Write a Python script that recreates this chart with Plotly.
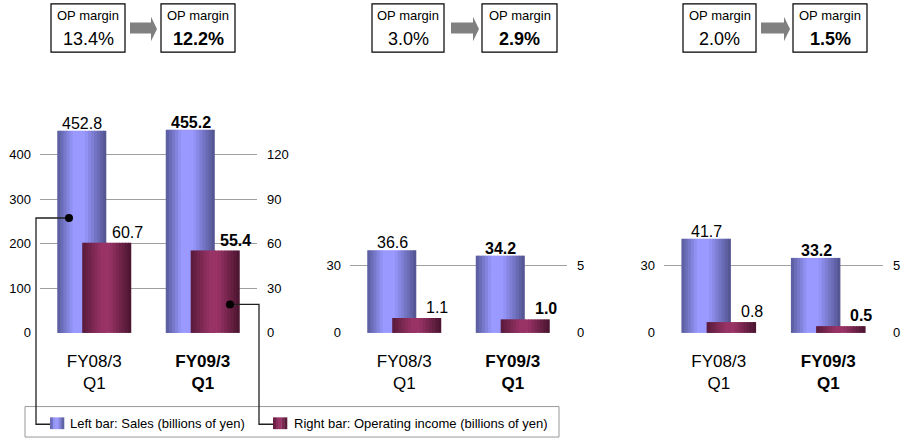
import plotly.graph_objects as go

W, H = 906, 446
FONT = "Arial, 'Liberation Sans', sans-serif"

# ---------------- data ----------------
categories = ["FY08/3 Q1", "FY09/3 Q1"]
tick_labels = ["FY08/3<br>Q1", "<b>FY09/3</b><br><b>Q1</b>"]
sales_prev = [452.8, 36.6, 41.7]
sales_curr = [455.2, 34.2, 33.2]
oi_prev = [60.7, 1.1, 0.8]
oi_curr = [55.4, 1.0, 0.5]
margin_prev = [13.4, 3.0, 2.0]
margin_curr = [12.2, 2.9, 1.5]
left_ticks = [[0, 100, 200, 300, 400], [0, 30], [0, 30]]
right_ticks = [[0, 30, 60, 90, 120], [0, 5], [0, 5]]
legend_labels = ["Left bar: Sales (billions of yen)",
                 "Right bar: Operating income (billions of yen)"]

# ---------------- layout geometry (pixels) ----------------
panel_x = [(40, 257), (350, 567), (664, 883)]
plot_top, plot_bottom = 100, 339
left_max = [526.0, 103.9, 103.9]
box_pairs = [((51, 125), (130, 157), (161, 235)),
             ((372, 444), (451, 479), (482, 557)),
             ((683, 756), (761, 790), (793, 867))]


def px(x):
    return x / W


def py(y):
    return 1 - y / H


def lerp_color(stops, t):
    for (t0, c0), (t1, c1) in zip(stops[:-1], stops[1:]):
        if t0 <= t <= t1:
            f = 0 if t1 == t0 else (t - t0) / (t1 - t0)
            c = [round(a + (b - a) * f) for a, b in zip(c0, c1)]
            return "rgb(%d,%d,%d)" % tuple(c)
    c = stops[-1][1]
    return "rgb(%d,%d,%d)" % tuple(c)


sales_stops = [(0, (0x58, 0x5a, 0x9a)), (0.33, (0x99, 0x99, 0xff)),
               (0.55, (0x99, 0x99, 0xff)), (1, (0x50, 0x52, 0x8c))]
oi_stops = [(0, (0x58, 0x1a, 0x3a)), (0.4, (0x99, 0x33, 0x66)),
            (0.55, (0x99, 0x33, 0x66)), (1, (0x48, 0x14, 0x2e))]

BAR_W = 0.452
SALES_OFF = -0.341
OI_OFF = -0.111
N = 16

fig = go.Figure()
layout = dict(
    width=W, height=H, margin=dict(l=0, r=0, t=0, b=0),
    paper_bgcolor="white", plot_bgcolor="white",
    barmode="overlay", showlegend=False,
    font=dict(family=FONT, color="black"),
)
annotations = []
shapes = []

for p in range(3):
    xa = "x" if p == 0 else "x%d" % (p + 1)
    ya_l = "y" if p == 0 else "y%d" % (2 * p + 1)
    ya_r = "y%d" % (2 * p + 2)
    xkey = "xaxis" if p == 0 else "xaxis%d" % (p + 1)
    ylkey = "yaxis" if p == 0 else "yaxis%d" % (2 * p + 1)
    yrkey = "yaxis%d" % (2 * p + 2)
    ratio = right_ticks[p][-1] / left_ticks[p][-1]

    sales = [sales_prev[p], sales_curr[p]]
    oi = [oi_prev[p], oi_curr[p]]

    for series, off, stops, yax in ((sales, SALES_OFF, sales_stops, ya_l),
                                    (oi, OI_OFF, oi_stops, ya_r)):
        for i in range(N):
            t = (i + 0.5) / N
            fig.add_trace(go.Bar(
                x=categories, y=series, xaxis=xa, yaxis=yax,
                offset=off + i * BAR_W / N,
                width=BAR_W / N * (1.25 if i < N - 1 else 1.0),
                marker=dict(color=lerp_color(stops, t), line=dict(width=0)),
                hoverinfo="skip",
            ))

    x0, x1 = panel_x[p]
    layout[xkey] = dict(
        domain=[px(x0), px(x1)], anchor=ya_l, type="category",
        range=[-0.5, 1.5], showgrid=False, showline=False, zeroline=False,
        ticks="", tickvals=categories, ticktext=tick_labels,
        tickfont=dict(size=17, family=FONT, color="black"),
        ticklabelstandoff=16,
    )
    layout[ylkey] = dict(
        domain=[py(plot_bottom), py(plot_top)], anchor=xa,
        range=[0, left_max[p]], tickvals=left_ticks[p],
        showgrid=True, gridcolor="#a0a0a0", gridwidth=1,
        showline=False, zeroline=False, ticks="",
        tickfont=dict(size=13, family=FONT, color="black"),
        ticklabelstandoff=8,
    )
    layout[yrkey] = dict(
        overlaying=ya_l, side="right", anchor=xa,
        range=[0, left_max[p] * ratio], tickvals=right_ticks[p],
        showgrid=False, showline=False, zeroline=False, ticks="",
        tickfont=dict(size=13, family=FONT, color="black"),
        ticklabelstandoff=9,
    )

    # value labels
    for j in range(2):
        bold = j == 1
        fmt = "<b>%.1f</b>" if bold else "%.1f"
        annotations.append(dict(
            x=categories[j], y=sales[j], xref=xa, yref=ya_l,
            text=fmt % sales[j], showarrow=False, xanchor="center", yanchor="bottom",
            xshift=-12, yshift=-3, font=dict(size=16, family=FONT, color="black")))
        annotations.append(dict(
            x=categories[j], y=oi[j], xref=xa, yref=ya_r,
            text=fmt % oi[j], showarrow=False, xanchor="center", yanchor="bottom",
            xshift=33, yshift=0, font=dict(size=16, family=FONT, color="black")))

    # OP margin boxes
    (b1x0, b1x1), (ax0, ax1), (b2x0, b2x1) = box_pairs[p]
    for (bx0, bx1), val, bold in (((b1x0, b1x1), margin_prev[p], False),
                                  ((b2x0, b2x1), margin_curr[p], True)):
        shapes.append(dict(type="rect", xref="paper", yref="paper",
                           x0=px(bx0), x1=px(bx1), y0=py(53), y1=py(4),
                           line=dict(color="black", width=1.2), fillcolor="white"))
        cx = px((bx0 + bx1) / 2)
        annotations.append(dict(x=cx, y=py(16), xref="paper", yref="paper",
                                xanchor="center", yanchor="middle",
                                text="OP margin", showarrow=False,
                                font=dict(size=13, family=FONT, color="black")))
        t = "%.1f%%" % val
        annotations.append(dict(x=cx, y=py(40), xref="paper", yref="paper",
                                xanchor="center", yanchor="middle",
                                text="<b>%s</b>" % t if bold else t, showarrow=False,
                                font=dict(size=18, family=FONT, color="black")))
    ah = ax1 - 6
    path = "M %f %f L %f %f L %f %f L %f %f L %f %f L %f %f L %f %f Z" % (
        px(ax0), py(23), px(ah), py(23), px(ah), py(17), px(ax1), py(29.5),
        px(ah), py(42), px(ah), py(34), px(ax0), py(34))
    shapes.append(dict(type="path", xref="paper", yref="paper", path=path,
                       fillcolor="#808080", line=dict(width=0)))

# legend box
shapes.append(dict(type="rect", xref="paper", yref="paper",
                   x0=px(25), x1=px(559), y0=py(445), y1=py(414),
                   line=dict(color="#999999", width=1), fillcolor="white"))

# connector lines with dots
for pts in (((69, 222), (36, 222), (36, 432), (50, 432)),
            ((230, 310), (259, 310), (259, 432), (273, 432))):
    path = "M " + " L ".join("%f %f" % (px(a), py(b)) for a, b in pts)
    shapes.append(dict(type="path", xref="paper", yref="paper", path=path,
                       line=dict(color="#202020", width=1.3)))
    dx, dy = pts[0]
    shapes.append(dict(type="circle", xref="paper", yref="paper",
                       x0=px(dx - 4), x1=px(dx + 4), y0=py(dy + 4), y1=py(dy - 4),
                       fillcolor="black", line=dict(width=0)))

# legend swatches
for sx0, stops in ((50, sales_stops), (273, oi_stops)):
    ns = 5
    sw = 14
    for i in range(ns):
        shapes.append(dict(type="rect", xref="paper", yref="paper",
                           x0=px(sx0 + i * sw / ns), x1=px(sx0 + (i + 1) * sw / ns + 0.3),
                           y0=py(437), y1=py(425),
                           fillcolor=lerp_color(stops, (i + 0.5) / ns),
                           line=dict(width=0)))

for lx, txt in ((68, legend_labels[0]), (292, legend_labels[1])):
    annotations.append(dict(x=px(lx), y=py(431), xref="paper", yref="paper",
                            xanchor="left", yanchor="middle", text=txt,
                            showarrow=False,
                            font=dict(size=13, family=FONT, color="black")))

layout["annotations"] = annotations
layout["shapes"] = shapes
fig.update_layout(**layout)
fig.write_html("out.html")
